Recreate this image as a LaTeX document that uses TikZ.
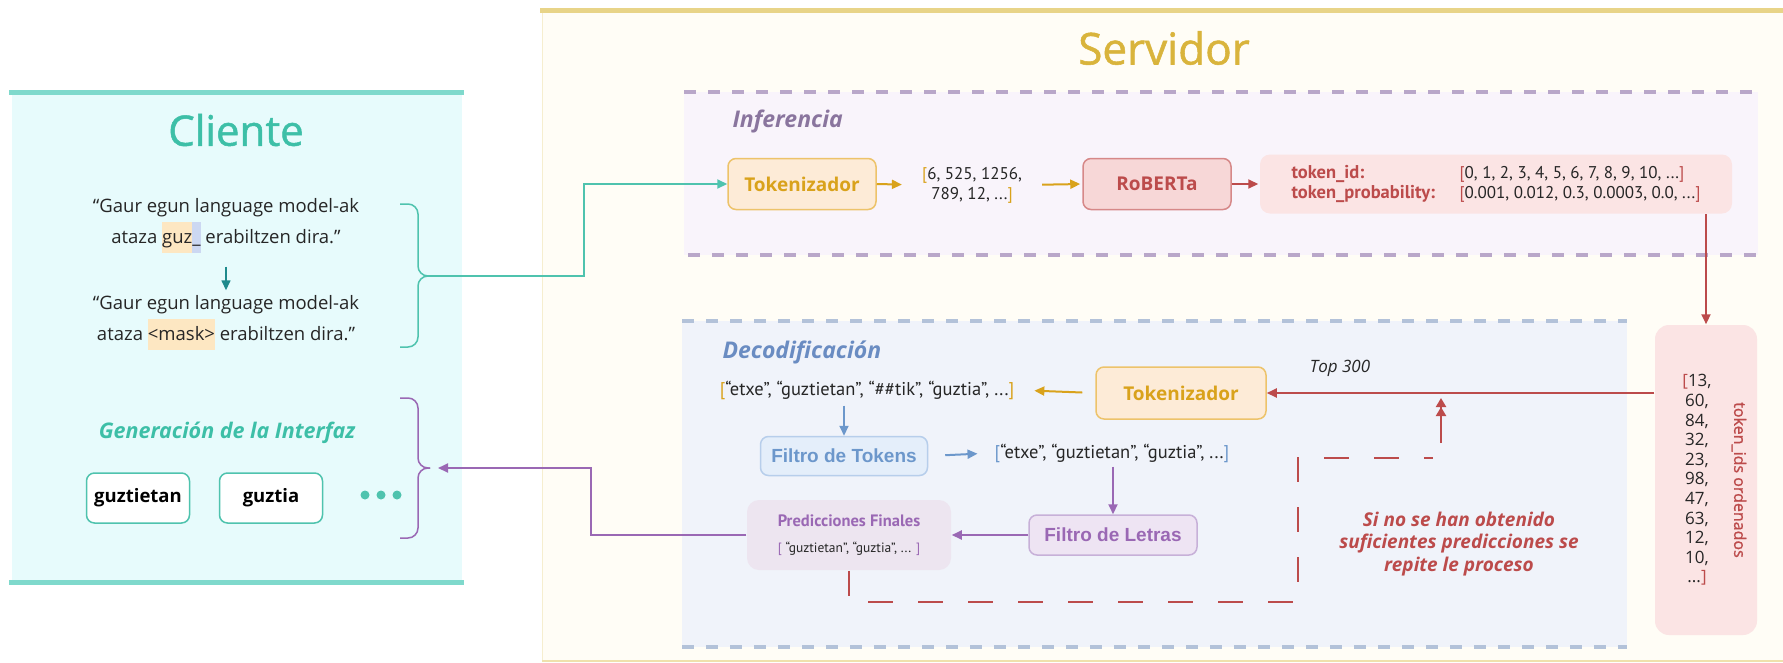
\documentclass[tikz,border=0pt]{standalone}
\usepackage{fontspec}
\setmainfont{Open Sans}
\newfontfamily\condfont{PT Sans}
\newfontfamily\arialfont{Liberation Sans}
\newfontfamily\semifont{Open Sans}[FakeBold=1.2]
\usetikzlibrary{arrows.meta}

\definecolor{clibar}{HTML}{7FD9CC}
\definecolor{clifill}{HTML}{E7FBFC}
\definecolor{clititle}{HTML}{3DBFA7}
\definecolor{clibtn}{HTML}{4FC3AE}
\definecolor{cliarrow}{HTML}{1E8A8C}
\definecolor{hlorange}{HTML}{FDE7C2}
\definecolor{hlblue}{HTML}{CCD8F2}
\definecolor{srvbar}{HTML}{E8D488}
\definecolor{srvfill}{HTML}{FFFDF6}
\definecolor{srvtitle}{HTML}{D9B43C}
\definecolor{infline}{HTML}{B9A7C9}
\definecolor{inffill}{HTML}{F9F4FB}
\definecolor{inftext}{HTML}{8A759E}
\definecolor{decline}{HTML}{B3C2D9}
\definecolor{decfill}{HTML}{F0F3FA}
\definecolor{dectext}{HTML}{6A8CC2}
\definecolor{tokfill}{HTML}{FDEBD7}
\definecolor{tokline}{HTML}{EDC36A}
\definecolor{tokgold}{HTML}{D9A21B}
\definecolor{robfill}{HTML}{F7D7D7}
\definecolor{robline}{HTML}{D68888}
\definecolor{robtext}{HTML}{BC4B4B}
\definecolor{probfill}{HTML}{FBE4E4}
\definecolor{ftokfill}{HTML}{E4EEFA}
\definecolor{ftokline}{HTML}{B7CEEB}
\definecolor{ftoktext}{HTML}{6C97CB}
\definecolor{fletfill}{HTML}{EEE4F3}
\definecolor{fletline}{HTML}{C7B0D8}
\definecolor{fletext}{HTML}{9A68B4}
\definecolor{predfill}{HTML}{EDE5F0}

\newcommand{\hl}[2]{{\setlength{\fboxsep}{0pt}\colorbox{#1}{\strut#2}}}
\newcommand{\bra}[1]{\textcolor{#1}{[}}
\newcommand{\ket}[1]{\textcolor{#1}{]}}

\tikzset{
  arr/.style={line width=2pt, -{Triangle[length=10pt,width=9pt]}},
  panelline/.style={line width=4pt, dash pattern=on 12pt off 12pt},
  quote/.style={align=center, text=black!85, font=\fontsize{18.5}{31}\selectfont},
  btn/.style={draw=clibtn, fill=white, rounded corners=8pt, line width=1.5pt,
    minimum width=103pt, minimum height=50pt, font=\bfseries\fontsize{18.5}{22}\selectfont},
  seclabel/.style={font=\bfseries\itshape\fontsize{23}{26}\selectfont},
  box/.style={rounded corners=8pt, line width=1.5pt, align=center, inner sep=0pt},
  tokbox/.style={box, draw=tokline, fill=tokfill, text=tokgold,
    font=\bfseries\fontsize{19}{22}\selectfont, minimum width=148pt, minimum height=51pt},
  robbox/.style={box, draw=robline, fill=robfill, text=robtext,
    font=\bfseries\fontsize{19}{22}\selectfont, minimum width=148pt, minimum height=51pt},
  ftokbox/.style={box, draw=ftokline, fill=ftokfill, text=ftoktext,
    font=\arialfont\bfseries\fontsize{19}{22}\selectfont, minimum width=167pt, minimum height=39pt},
  fletbox/.style={box, draw=fletline, fill=fletfill, text=fletext,
    font=\arialfont\bfseries\fontsize{19}{22}\selectfont, minimum width=168pt, minimum height=40pt},
  list/.style={align=center, inner sep=2pt, text=black!85, font=\condfont\fontsize{18.5}{20}\selectfont},
}

\begin{document}
\begin{tikzpicture}[x=1pt,y=-1pt]
\useasboundingbox (0,0) rectangle (1783,662);

% cliente
\fill[clifill] (12,93) rectangle (462,580);
\draw[clibar, line width=5pt] (9,92) -- (464,92) (9,582) -- (464,582);
\node[text=clititle, font=\semifont\fontsize{42}{50}\selectfont] (cliente) at (236,130) {Cliente};

\node[quote] (q1) at (226,226) {“Gaur egun language model-ak\\ataza \hl{hlorange}{guz}\hl{hlblue}{\_} erabiltzen dira.”};
\node[quote] (q2) at (226,323) {“Gaur egun language model-ak\\ataza \hl{hlorange}{<mask>} erabiltzen dira.”};
\draw[arr, cliarrow, line width=1.5pt, shorten <=10pt, shorten >=2pt] (q1.south) -- (q2.north);

\draw[clibtn, line width=1.5pt, rounded corners=10pt] (400,204) -- (418,204) -- (418,276) -- (430,276);
\draw[clibtn, line width=1.5pt, rounded corners=10pt] (400,347) -- (418,347) -- (418,276) -- (430,276);
\coordinate (b1) at (428,276);

\node[text=clititle, font=\bfseries\itshape\fontsize{21.5}{24}\selectfont] (interfaz) at (227,433) {Generación de la Interfaz};
\node[btn] (w1) at (138,498) {guztietan};
\node[btn] (w2) at (271,498) {guztia};
\foreach \x in {365,381,397}
  { \fill[clibtn] (\x,495) circle (4.5pt); }

\draw[fletext, line width=1.5pt, rounded corners=10pt] (400,398) -- (418,398) -- (418,468) -- (430,468);
\draw[fletext, line width=1.5pt, rounded corners=10pt] (400,538) -- (418,538) -- (418,468) -- (430,468);
\coordinate (b2) at (438,468);

% servidor
\fill[srvfill] (542,12) rectangle (1783,662);
\draw[srvbar!40, line width=1pt] (542,12) -- (542,662);
\draw[srvbar, line width=5pt] (540,10) -- (1783,10);
\draw[srvbar!70, line width=2pt] (542,661) -- (1783,661);
\node[text=srvtitle, font=\semifont\fontsize{44}{50}\selectfont] (servidor) at (1164,48) {Servidor};

% inferencia
\fill[inffill] (684,92) rectangle (1758,255);
\draw[panelline, infline] (684,92) -- (1760,92) (688,255) -- (1760,255);
\node[seclabel, text=inftext, anchor=base west] (inf) at (729,127) {Inferencia};

\node[tokbox] (tok1) at (802,184) {Tokenizador};
\node[list, font=\condfont\fontsize{17}{20}\selectfont] (ids) at (972,185) {\bra{tokgold}6, 525, 1256,\\789, 12, ...\ket{tokgold}};
\node[robbox] (rob) at (1157,184) {RoBERTa};
\node[box, fill=probfill, rounded corners=10pt, minimum width=472pt, minimum height=59pt,
  align=left, text=black!85, font=\condfont\fontsize{17}{20}\selectfont] (prob) at (1496,184)
  {\makebox[168pt][l]{\textcolor{robtext}{\bfseries\fontsize{18.5}{20}\selectfont token\_id:}}\bra{robtext}0, 1, 2, 3, 4, 5, 6, 7, 8, 9, 10, ...\ket{robtext}\\
   \makebox[168pt][l]{\textcolor{robtext}{\bfseries\fontsize{18.5}{20}\selectfont token\_probability:}}\bra{robtext}0.001, 0.012, 0.3, 0.0003, 0.0, ...\ket{robtext}};

\draw[arr, tokgold, shorten >=18pt] (tok1.east) -- (ids.west);
\draw[arr, tokgold, shorten <=18pt, shorten >=2pt] (ids.east) -- (rob.west);
\draw[arr, robtext, shorten >=1pt] (rob.east) -- (prob.west);

% token_ids
\node[box, fill=probfill, rounded corners=14pt, minimum width=102pt, minimum height=310pt] (tids) at (1706,480) {};
\node[align=center, inner sep=0pt, text=black!85, font=\fontsize{17}{19.6}\selectfont] (tidlist) at (1697,480)
  {\bra{robtext}13,\\60,\\84,\\32,\\23,\\98,\\47,\\63,\\12,\\10,\\...\ket{robtext}};
\node[rotate=-90, text=robtext, font=\semifont\fontsize{16}{20}\selectfont] (tidlab) at (1739,480) {token\_ids ordenados};
\draw[arr, robtext] (tids.north |- prob.south) -- (tids.north);

% decodificacion
\fill[decfill] (682,321) rectangle (1627,647);
\draw[panelline, decline] (682,321) -- (1627,321) (682,647) -- (1627,647);
\node[seclabel, text=dectext, anchor=base west] (dec) at (719,358) {Decodificación};

\node[tokbox, minimum width=170pt, minimum height=52pt] (tok2) at (1181,393) {Tokenizador};
\node[text=black!85, font=\itshape\fontsize{17}{20}\selectfont] (top) at (1340,368) {Top 300};
\draw[arr, robtext] (tids.west |- tok2) -- (tok2.east);

\node[list] (l1) at (867,390) {\bra{tokgold}“etxe”, “guztietan”, “\#\#tik”, “guztia”, ...\ket{tokgold}};
\draw[arr, tokgold, shorten <=13pt, shorten >=18pt] (tok2.west) -- (l1.east);

\node[ftokbox] (ftok) at (844,456) {Filtro de Tokens};
\draw[arr, ftoktext, shorten <=4pt] (ftok.north |- l1.south) -- (ftok.north);

\node[list] (l2) at (1112,453) {\bra{ftoktext}“etxe”, “guztietan”, “guztia”, ...\ket{ftoktext}};
\draw[arr, ftoktext, shorten <=17pt, shorten >=15pt] (ftok.east) -- (l2.west);

\node[fletbox] (flet) at (1113,535) {Filtro de Letras};
\draw[arr, fletext, shorten <=2pt] (flet.north |- l2.south) -- (flet.north);

\node[box, fill=predfill, rounded corners=12pt, minimum width=204pt, minimum height=70pt,
  text=black!85, font=\condfont\fontsize{16.5}{19}\selectfont] (pred) at (849,535)
  {\textcolor{fletext}{\bfseries Predicciones Finales}\\[7pt]
   {\fontsize{13.5}{15}\selectfont\bra{fletext} “guztietan”, “guztia”, ... \ket{fletext}}};
\draw[arr, fletext] (flet.west) -- (pred.east);
\draw[arr, fletext] (pred.west) -- (591,535) -- (591,468) -- (b2);

% bucle
\coordinate (lp1) at (1298,458);
\coordinate (lp2) at (1433,458);
\coordinate (lp3) at (1441,443);
\coordinate (lp4) at (1441,398);
\draw[robtext, line width=2pt, dash pattern=on 25pt off 25pt] (pred.south) -- ++(0,31) -| (lp1) -- (lp2);
\draw[robtext, line width=2pt, -{Triangle[length=9pt,width=10pt]Triangle[length=9pt,width=10pt]}] (lp3) -- (lp4);
\node[align=center, text=robtext, font=\bfseries\itshape\fontsize{19}{22.5}\selectfont] (rep) at (1459,544)
  {Si no se han obtenido\\suficientes predicciones se\\repite le proceso};

% enlace cliente
\draw[arr, clibtn] (b1) -- (584,276) |- (tok1.west);
\end{tikzpicture}
\end{document}
